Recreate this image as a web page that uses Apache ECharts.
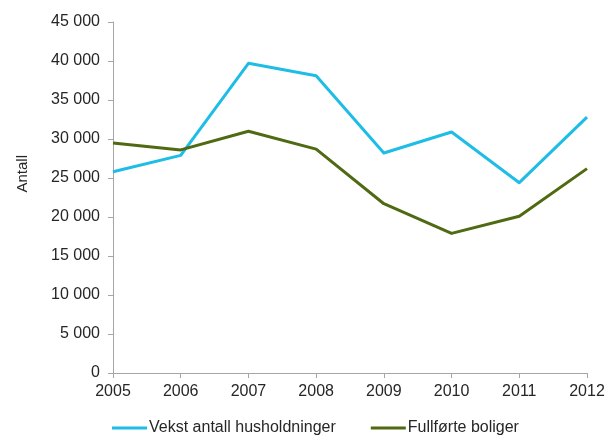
<!DOCTYPE html>
<html>
<head>
<meta charset="utf-8">
<script src="https://cdn.jsdelivr.net/npm/echarts@6/dist/echarts.min.js"></script>
<style>
  html, body { margin: 0; padding: 0; background: #fff; }
  #chart { width: 612px; height: 436px; }
</style>
</head>
<body>
<div id="chart"></div>
<script>
// Years on the x axis
const years = ['2005', '2006', '2007', '2008', '2009', '2010', '2011', '2012'];
// Growth in number of households
const vekstHusholdninger = [25800, 27900, 39700, 38100, 28200, 30900, 24400, 32800];
// Completed dwellings
const fullforteBoliger = [29500, 28600, 31000, 28700, 21700, 17900, 20100, 26200];
// Value axis range
const yMin = 0, yMax = 45000, yStep = 5000;

const fmt = v => String(v).replace(/\B(?=(\d{3})+(?!\d))/g, ' ');
const font = 'Liberation Sans, Arial, sans-serif';
const axisGrey = '#a6a6a6';
const textColor = '#262626';

const chart = echarts.init(document.getElementById('chart'), null, { renderer: 'canvas' });
chart.setOption({
  animation: false,
  backgroundColor: '#fff',
  grid: { left: 113, right: 25, top: 22, bottom: 63, containLabel: false },
  legend: {
    left: 112, top: 420, padding: 0, itemWidth: 35, itemHeight: 3, itemGap: 35,
    icon: 'rect',
    textStyle: { fontFamily: font, fontSize: 16, color: textColor, padding: [0, 0, 0, -3] },
    data: ['Vekst antall husholdninger', 'Fullførte boliger']
  },
  xAxis: {
    type: 'category', data: years, boundaryGap: false,
    axisLine: { lineStyle: { color: axisGrey, width: 1 } },
    axisTick: { show: true, length: 5, lineStyle: { color: axisGrey } },
    axisLabel: { fontFamily: font, fontSize: 16, color: textColor, margin: 11 }
  },
  yAxis: {
    type: 'value', min: yMin, max: yMax, interval: yStep,
    splitLine: { show: false },
    axisLine: { show: true, lineStyle: { color: axisGrey, width: 1 } },
    axisTick: { show: true, length: 5, lineStyle: { color: axisGrey } },
    axisLabel: { fontFamily: font, fontSize: 16, color: textColor, margin: 13, formatter: fmt }
  },
  graphic: [{
    type: 'text', left: 15, top: 155, rotation: Math.PI / 2,
    style: { text: 'Antall', font: '15px ' + font, fill: textColor }
  }],
  series: [
    {
      name: 'Vekst antall husholdninger', type: 'line', data: vekstHusholdninger,
      symbol: 'none', lineStyle: { color: '#1dbde6', width: 3, join: 'round' },
      itemStyle: { color: '#1dbde6' }
    },
    {
      name: 'Fullførte boliger', type: 'line', data: fullforteBoliger,
      symbol: 'none', lineStyle: { color: '#4f6a12', width: 3, join: 'round' },
      itemStyle: { color: '#4f6a12' }
    }
  ]
});
</script>
</body>
</html>
